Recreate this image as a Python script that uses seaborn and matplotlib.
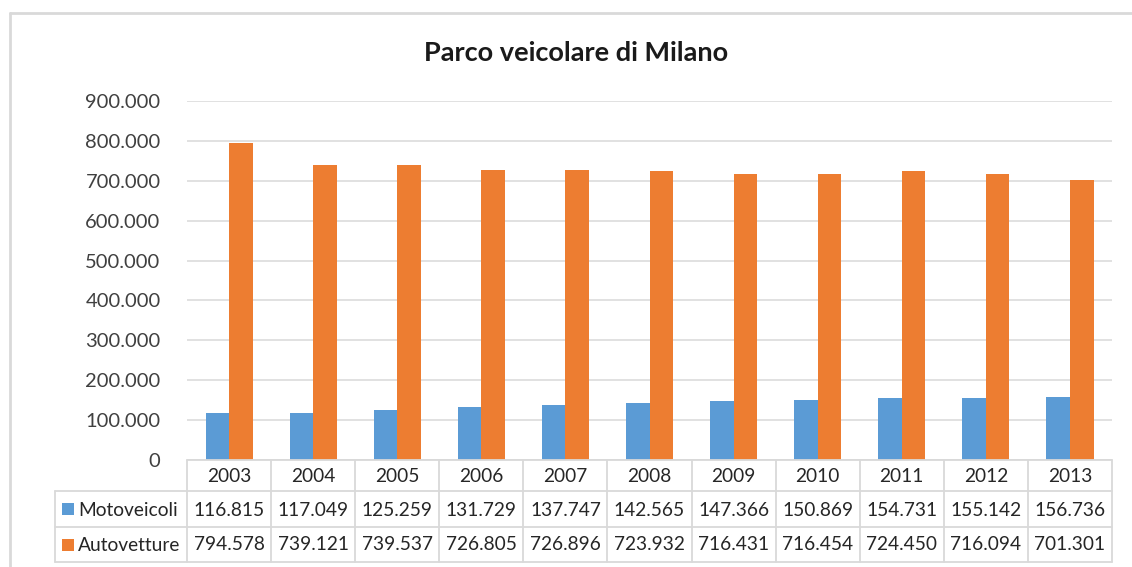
import matplotlib
matplotlib.use("Agg")
import matplotlib.pyplot as plt
import matplotlib.transforms as mtransforms
from matplotlib.lines import Line2D
from matplotlib.patches import Rectangle
from matplotlib.ticker import FuncFormatter
import seaborn as sns
import pandas as pd

# ---- data ----
years = ["2003", "2004", "2005", "2006", "2007", "2008", "2009", "2010", "2011", "2012", "2013"]
motoveicoli = [116815, 117049, 125259, 131729, 137747, 142565, 147366, 150869, 154731, 155142, 156736]
autovetture = [794578, 739121, 739537, 726805, 726896, 723932, 716431, 716454, 724450, 716094, 701301]
series_names = ["Motoveicoli", "Autovetture"]
title = "Parco veicolare di Milano"
colors = ["#5B9BD5", "#ED7D31"]

df = pd.DataFrame({
    "anno": years * 2,
    "serie": [series_names[0]] * len(years) + [series_names[1]] * len(years),
    "valore": motoveicoli + autovetture,
})

sns.set_theme(style="white")
plt.rcParams["font.family"] = ["Lato", "DejaVu Sans"]

W, H = 1132, 567
fig = plt.figure(figsize=(W / 100, H / 100), dpi=100)
fig.patch.set_facecolor("white")

def fx(px):
    return px / W

def fy(py):
    return 1 - py / H

ax = fig.add_axes([fx(187), fy(460), fx(1112) - fx(187), fy(101) - fy(460)])

sns.barplot(data=df, x="anno", y="valore", hue="serie", palette=colors,
            width=0.56, gap=0, ax=ax, legend=False, saturation=1, errorbar=None,
            linewidth=0, edgecolor="none")

ax.set_xlim(-0.5, len(years) - 0.5)
ax.set_ylim(0, 900000)
ax.set_yticks(range(0, 900001, 100000))
ax.yaxis.set_major_formatter(FuncFormatter(
    lambda v, p: "0" if v == 0 else f"{int(v):,}".replace(",", ".")))
ax.tick_params(axis="y", length=0, labelsize=14.5, labelcolor="#404040", pad=19)
ax.set_xticks([])
ax.set_xlabel("")
ax.set_ylabel("")
for s in ax.spines.values():
    s.set_visible(False)
ax.grid(axis="y", color="#d9d9d9", linewidth=1.1)
ax.set_axisbelow(True)

# ---- data table ----
grid_c = "#d9d9d9"
txt_c = "#262626"
trans = mtransforms.blended_transform_factory(ax.transData, fig.transFigure)
n = len(years)
y_head_top, y_r1, y_r2, y_bot = 460, 491, 527, 562

# horizontal lines
fig.add_artist(Line2D([fx(187), fx(1112)], [fy(y_head_top)] * 2, color=grid_c, lw=1.3))
for yy in (y_r1, y_r2, y_bot):
    fig.add_artist(Line2D([fx(55), fx(1112)], [fy(yy)] * 2, color=grid_c, lw=1.3))
# vertical lines
for i in range(n + 1):
    xb = i - 0.5
    fig.add_artist(Line2D([xb, xb], [fy(y_head_top), fy(y_bot)], transform=trans,
                          color=grid_c, lw=1.3))
fig.add_artist(Line2D([fx(55), fx(55)], [fy(y_r1), fy(y_bot)], color=grid_c, lw=1.3))

tsize = 13.8
for i, yr in enumerate(years):
    fig.text(i, fy((y_head_top + y_r1) / 2 + 1), yr, transform=trans, ha="center",
             va="center", fontsize=tsize, color=txt_c)
    fig.text(i, fy((y_r1 + y_r2) / 2 + 1), f"{motoveicoli[i]:,}".replace(",", "."),
             transform=trans, ha="center", va="center", fontsize=tsize, color=txt_c)
    fig.text(i, fy((y_r2 + y_bot) / 2), f"{autovetture[i]:,}".replace(",", "."),
             transform=trans, ha="center", va="center", fontsize=tsize, color=txt_c)

for k, (name, c) in enumerate(zip(series_names, colors)):
    yc = (y_r1 + y_r2) / 2 if k == 0 else (y_r2 + y_bot) / 2
    fig.add_artist(Rectangle((fx(62), fy(yc + 6)), fx(12), fy(0) - fy(12),
                             facecolor=c, edgecolor="none"))
    fig.text(fx(78), fy(yc + 1), name, ha="left", va="center", fontsize=tsize, color=txt_c)

# ---- title ----
fig.text(fx(576), fy(53), title, ha="center", va="center", fontsize=19.5,
         fontweight="bold", color="#1a1a1a")

# ---- chart border ----
fig.add_artist(Line2D([fx(10), fx(W)], [fy(13), fy(13)], color="#d9d9d9", lw=2))
fig.add_artist(Line2D([fx(10), fx(10)], [fy(13), fy(H)], color="#d9d9d9", lw=2))

fig.savefig("out.png", dpi=100)
